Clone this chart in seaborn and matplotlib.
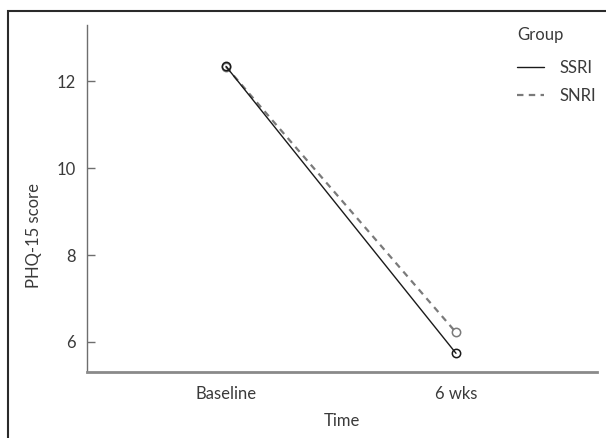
import matplotlib
matplotlib.use("Agg")
import matplotlib.pyplot as plt
from matplotlib.lines import Line2D
from matplotlib.patches import Rectangle
import seaborn as sns
import pandas as pd

# ---- data ----
time_points = ["Baseline", "6 wks"]
ssri_scores = [12.34, 5.74]
snri_scores = [12.33, 6.22]
groups = ["SSRI", "SNRI"]
y_ticks = [6, 8, 10, 12]

df = pd.DataFrame({
    "Time": time_points * 2,
    "score": ssri_scores + snri_scores,
    "Group": [groups[0]] * 2 + [groups[1]] * 2,
})

sns.set_theme(style="white")
plt.rcParams["font.family"] = ["Lato", "DejaVu Sans"]
text_col = "#3a3a3a"
fs = 12

fig = plt.figure(figsize=(6.06, 4.38), dpi=100)
ax = fig.add_axes([86.6 / 606, 1 - 372 / 438, (597 - 86.6) / 606, (372 - 25) / 438])

ssri_col = "#1a1a1a"
snri_col = "#7a7a7a"

sns.lineplot(data=df[df["Group"] == "SNRI"], x="Time", y="score", ax=ax,
             color=snri_col, lw=1.6, linestyle=(0, (2.9, 2.4)),
             marker="o", markersize=6, markerfacecolor="none",
             markeredgecolor=snri_col, markeredgewidth=1.1, legend=False)
sns.lineplot(data=df[df["Group"] == "SSRI"], x="Time", y="score", ax=ax,
             color=ssri_col, lw=1.0,
             marker="o", markersize=6, markerfacecolor="none",
             markeredgecolor=ssri_col, markeredgewidth=1.1, legend=False)

ax.set_xlim(-0.606, 1.613)
ax.set_ylim(5.31, 13.29)
ax.set_yticks(y_ticks)
ax.set_yticklabels([str(t) for t in y_ticks])

for s in ["top", "right"]:
    ax.spines[s].set_visible(False)
ax.spines["left"].set_color("#6e6e6e")
ax.spines["left"].set_linewidth(1.0)
ax.spines["bottom"].set_color("#8a8a8a")
ax.spines["bottom"].set_linewidth(2.0)

ax.tick_params(axis="y", direction="in", length=6, width=1.0, color="#6e6e6e",
               pad=8, labelsize=fs, labelcolor=text_col, left=True)
ax.tick_params(axis="x", length=0, pad=10, labelsize=fs, labelcolor=text_col)

ax.set_xlabel("Time", fontsize=fs, color=text_col, labelpad=8)
ax.set_ylabel("PHQ-15 score", fontsize=fs, color=text_col)
ax.yaxis.set_label_coords(-0.088, 0.392)

handles = [
    Line2D([], [], color=ssri_col, lw=1.0),
    Line2D([], [], color=snri_col, lw=1.6, linestyle=(0, (2.9, 2.4))),
]
leg = fig.legend(handles, groups, title="Group", loc="upper left",
                 bbox_to_anchor=(517 / 606, 1 - 27 / 438),
                 bbox_transform=fig.transFigure, frameon=False,
                 fontsize=fs, title_fontsize=fs, handlelength=1.6,
                 handletextpad=0.95, labelspacing=0.75, borderpad=0,
                 borderaxespad=0, alignment="left")
leg._legend_box.sep = 12
for t in leg.get_texts():
    t.set_color(text_col)
leg.get_title().set_color(text_col)

fig.patches.append(Rectangle((7.5 / 606, -0.2), 1.5, 1.2 - 10.5 / 438,
                             transform=fig.transFigure, fill=False,
                             edgecolor="#2a2a2a", lw=1.5, clip_on=False))

fig.savefig("out.png", dpi=100)
